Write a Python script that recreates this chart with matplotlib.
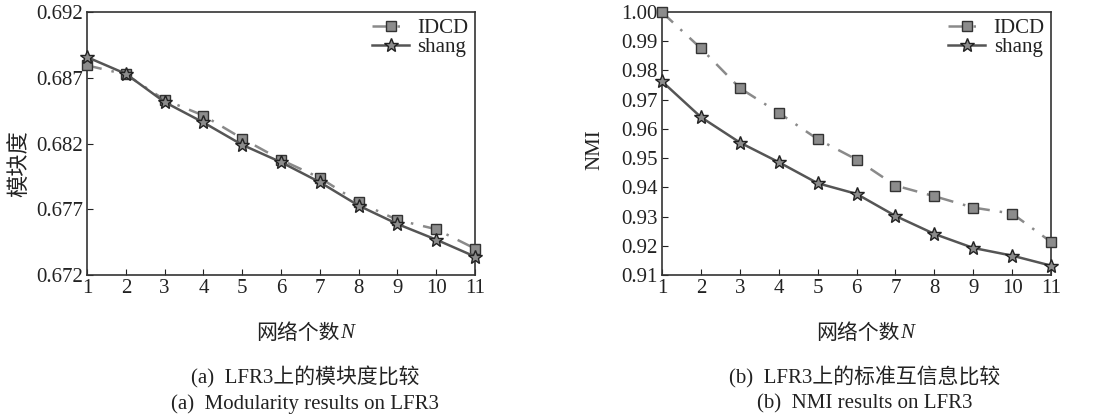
import matplotlib.pyplot as plt
import numpy as np

plt.rcParams['font.family'] = ['Liberation Serif', 'Noto Sans CJK SC']

# data
n = list(range(1, 12))
mod_idcd = [0.68794, 0.68725, 0.68532, 0.68413, 0.68238, 0.68076,
            0.67939, 0.67753, 0.67619, 0.67548, 0.67401]
mod_shang = [0.68857, 0.68730, 0.68515, 0.68360, 0.68190, 0.68058,
             0.67906, 0.67728, 0.67588, 0.67469, 0.67340]
nmi_idcd = [0.9999, 0.98755, 0.97396, 0.96551, 0.95649, 0.94952,
            0.94061, 0.93696, 0.93307, 0.93102, 0.92131]
nmi_shang = [0.97624, 0.96402, 0.95534, 0.94861, 0.94141, 0.93776,
             0.93022, 0.92405, 0.91926, 0.91663, 0.91320]

mod_ticks = [0.672, 0.677, 0.682, 0.687, 0.692]
nmi_ticks = [0.91, 0.92, 0.93, 0.94, 0.95, 0.96, 0.97, 0.98, 0.99, 1.00]

txt = '#222222'
fs = 15
fig = plt.figure(figsize=(10.99, 4.17), dpi=100)
ax1 = fig.add_axes([0.0792, 0.3405, 0.353, 0.6307])
ax2 = fig.add_axes([0.6024, 0.3405, 0.354, 0.6307])


def draw(ax, idcd, shang):
    ax.plot(n, idcd, color='#8a8a8a', lw=1.8, ls=(0, (6, 4, 1, 4)),
            marker='s', ms=7, mfc='#8c8c8c', mec='#333333', mew=1,
            label='IDCD', clip_on=False, zorder=3)
    ax.plot(n, shang, color='#555555', lw=1.8, ls='-',
            marker='*', ms=10, mfc='#8c8c8c', mec='#222222', mew=1,
            label='shang', clip_on=False, zorder=4)
    ax.set_xlim(1, 11)
    ax.set_xticks(n)
    ax.tick_params(direction='in', labelsize=fs, colors=txt, length=4, pad=3)
    for s in ax.spines.values():
        s.set_color('#333333')
        s.set_linewidth(1.2)
    leg = ax.legend(loc='upper right', frameon=False, fontsize=fs,
                    handlelength=1.8, borderaxespad=0.0, labelspacing=0.0,
                    handletextpad=0.4, borderpad=0.3)
    for t in leg.get_texts():
        t.set_color(txt)


draw(ax1, mod_idcd, mod_shang)
ax1.set_ylim(0.672, 0.692)
ax1.set_yticks(mod_ticks)
ax1.set_yticklabels(['%.3f' % v for v in mod_ticks])

draw(ax2, nmi_idcd, nmi_shang)
ax2.set_ylim(0.91, 1.00)
ax2.set_yticks(nmi_ticks)
ax2.set_yticklabels(['%.2f' % v for v in nmi_ticks])

fig.text(19 / 1099, 1 - 164 / 417, '模块度', rotation=90, fontsize=16,
         color=txt, ha='center', va='center', family=['Noto Sans CJK SC'])
fig.text(595 / 1099, 1 - 150 / 417, 'NMI', rotation=90, fontsize=fs,
         color=txt, ha='center', va='center')

fig.canvas.draw()
renderer = fig.canvas.get_renderer()
for cx, c1, c2 in [(305, '(a)  LFR3上的模块度比较', '(a)  Modularity results on LFR3'),
                   (865, '(b)  LFR3上的标准互信息比较', '(b)  NMI results on LFR3')]:
    # x label: CJK part plus italic N, centred as one block
    t1 = fig.text(0, 1 - 334 / 417, '网络个数', fontsize=fs, color=txt,
                  ha='left', va='center')
    t2 = fig.text(0, 1 - 334 / 417, 'N', fontsize=fs, color=txt,
                  ha='left', va='center', style='italic')
    w1 = t1.get_window_extent(renderer).width
    w2 = t2.get_window_extent(renderer).width
    x0 = cx - (w1 + w2) / 2
    t1.set_x(x0 / 1099)
    t2.set_x((x0 + w1) / 1099)
    fig.text(cx / 1099, 1 - 377 / 417, c1, fontsize=fs, color=txt,
             ha='center', va='center')
    fig.text(cx / 1099, 1 - 404 / 417, c2, fontsize=fs, color=txt,
             ha='center', va='center')

fig.savefig('out.png', dpi=100, facecolor='white')
